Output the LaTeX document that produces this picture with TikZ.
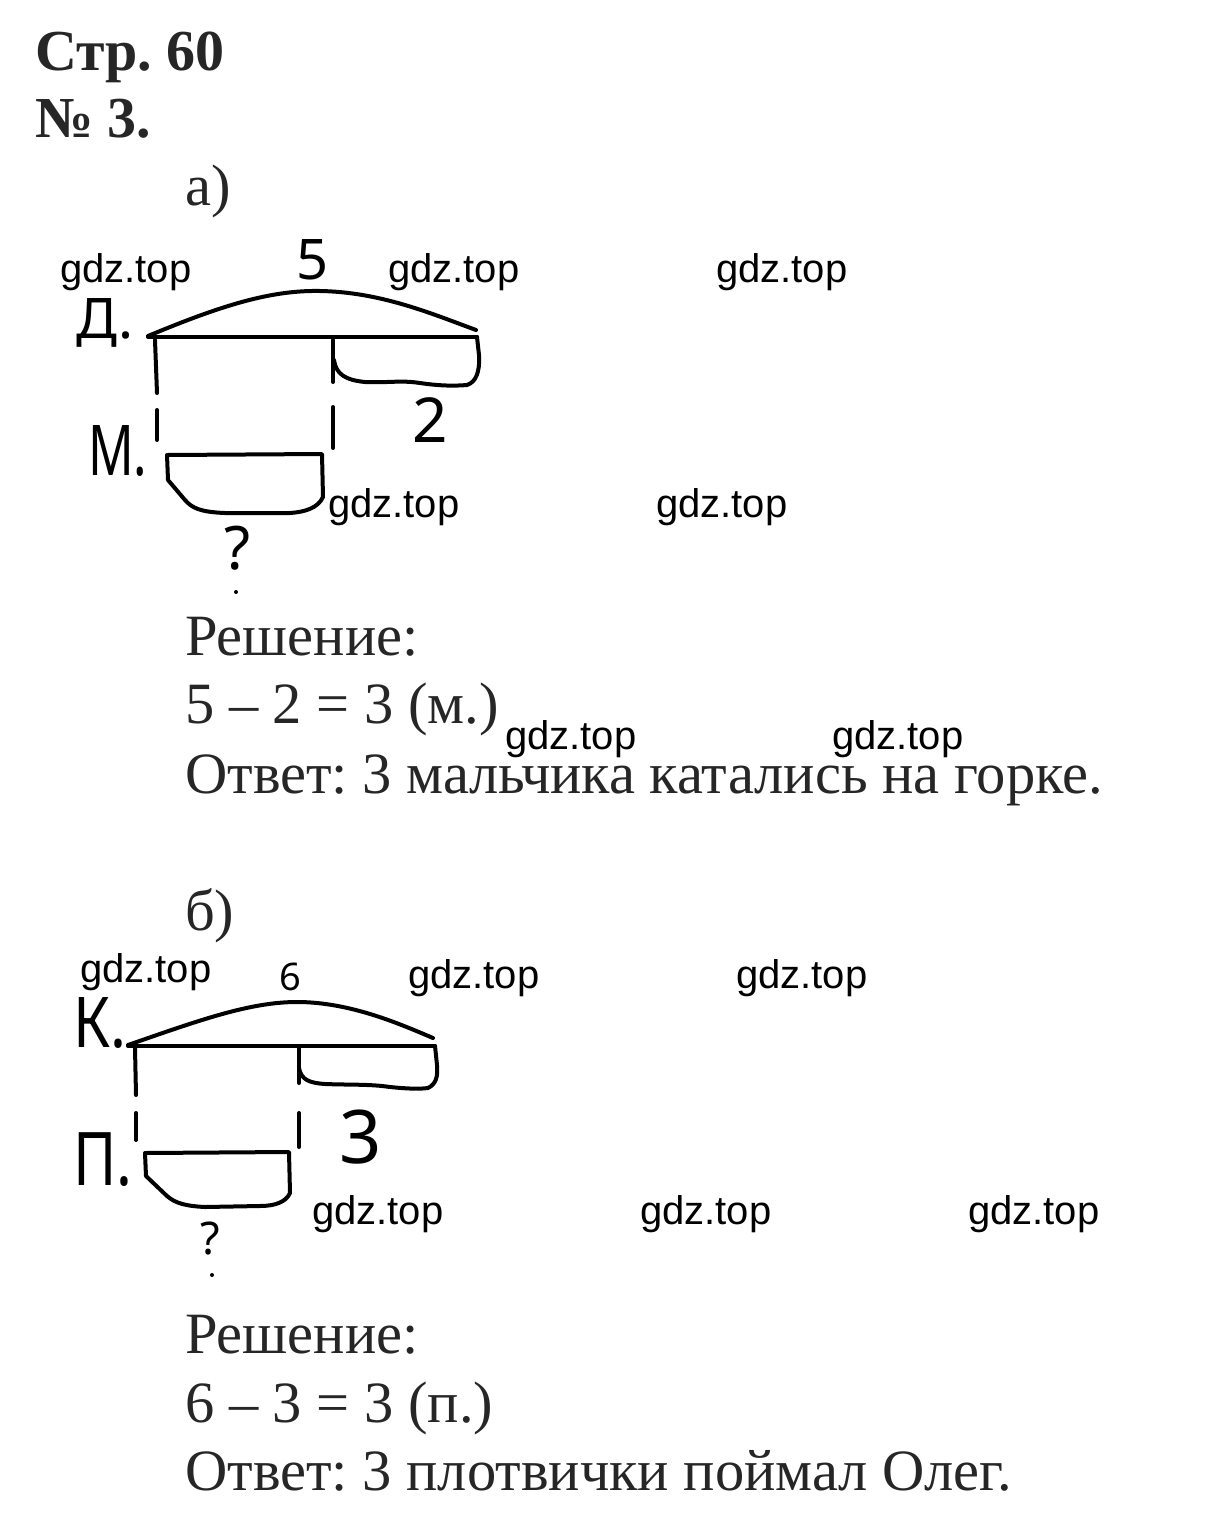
\documentclass[tikz,border=0pt]{standalone}
\usepackage{fontspec}
\setmainfont{Liberation Serif}
\newfontfamily\wmfont{Liberation Sans}
\newfontfamily\handfont{Noto Sans}
\definecolor{txt}{HTML}{262626}
\frenchspacing
\begin{document}
\begin{tikzpicture}[x=1pt,y=-1pt,
  sk/.style={line width=4pt,line cap=round,line join=round,black},
  hd/.style={font=\handfont\fontsize{#1}{#1}\selectfont,inner sep=0pt,text=black},
  wm/.style={font=\wmfont\fontsize{40}{40}\selectfont,anchor=base west,inner sep=0pt,text=black},
  body/.style={font=\fontsize{58.5}{58.5}\selectfont,anchor=base west,inner sep=0pt,text=txt},
  head/.style={font=\bfseries\fontsize{58}{58}\selectfont,anchor=base west,inner sep=0pt,text=txt}]
\useasboundingbox[fill=white] (0,0) rectangle (1225,1526);

% headers
\node[head] (h1) at (35,70) {Стр. 60};
\node[head] (h2) at (35,137) {№ 3.};
\node[body] (pa) at (185,205) {а)};
\node[body] (pb) at (185,930) {б)};

% part a text
\node[body] (ra) at (185,655) {Решение:};
\node[body] (ea) at (185,723) {5 – 2 = 3 (м.)};
\node[body] (oa) at (185,793) {Ответ: 3 мальчика катались на горке.};
% part b text
\node[body] (rb) at (185,1353) {Решение:};
\node[body] (eb) at (185,1422) {6 – 3 = 3 (п.)};
\node[body] (ob) at (185,1490) {Ответ: 3 плотвички поймал Олег.};

% sketch a
\draw[sk] (148,337) -- (477,337);
\draw[sk] (148,336) .. controls (220,306) and (270,290) .. (320,291) .. controls (380,292) and (430,313) .. (476,330);
\draw[sk] (333,340) -- (333,382);
\draw[sk] (334,360) .. controls (336,374) and (345,380) .. (365,382) .. controls (390,383) and (400,380) .. (420,383) .. controls (440,386) and (455,386) .. (467,385) .. controls (476,382) and (480,372) .. (479,355) -- (477,337);
\draw[sk] (155,340) -- (157,393);
\draw[sk] (157,410) -- (157,440);
\draw[sk] (333,407) -- (333,448);
\draw[sk] (167,455) -- (322,454) -- (323,497) .. controls (318,508) and (305,512) .. (290,513) -- (225,513) .. controls (200,512) and (192,508) .. (185,500) -- (168,480) -- cycle;
\node[hd=56,anchor=base west] (da) at (76,338) {Д.};
\node[hd=70,anchor=base west] (ma) at (88,475) {\scalebox{0.72}[1]{М.}};
\node[hd=56] (fa) at (313,260) {5};
\node[hd=62] (ta) at (430,420) {2};
\node[hd=60] (qa) at (238,548) {?};
\fill (236,592) circle (2pt);

% sketch b
\draw[sk] (128,1046) -- (435,1046);
\draw[sk] (128,1045) .. controls (200,1020) and (250,1002) .. (297,1002) .. controls (350,1002) and (400,1024) .. (433,1038);
\draw[sk] (135,1048) -- (136,1095);
\draw[sk] (136,1113) -- (136,1140);
\draw[sk] (299,1046) -- (299,1083);
\draw[sk] (299,1113) -- (299,1147);
\draw[sk] (299,1068) .. controls (301,1080) and (310,1083) .. (325,1084) .. controls (350,1085) and (370,1084) .. (390,1087) .. controls (410,1089) and (420,1089) .. (428,1088) .. controls (436,1084) and (438,1077) .. (437,1065) -- (435,1046);
\draw[sk] (145,1153) -- (289,1152) -- (290,1193) .. controls (286,1202) and (275,1206) .. (260,1206) -- (205,1207) .. controls (185,1206) and (175,1203) .. (167,1196) -- (146,1176) -- cycle;
\node[hd=70,anchor=base west] (kb) at (73,1047) {\scalebox{0.85}[1]{К.}};
\node[hd=74,anchor=base west] (pbb) at (73,1185) {\scalebox{0.8}[1]{П.}};
\node[hd=38] (sb) at (290,977) {6};
\node[hd=74] (tb) at (361,1137) {3};
\node[hd=45] (qb) at (210,1239) {?};
\fill (212,1275) circle (2pt);

% watermarks
\node[wm] (w1) at (60,282) {gdz.top};
\node[wm] (w2) at (388,282) {gdz.top};
\node[wm] (w3) at (716,282) {gdz.top};
\node[wm] (w4) at (328,517) {gdz.top};
\node[wm] (w5) at (656,517) {gdz.top};
\node[wm] (w6) at (505,749) {gdz.top};
\node[wm] (w7) at (832,749) {gdz.top};
\node[wm] (w8) at (80,982) {gdz.top};
\node[wm] (w9) at (408,988) {gdz.top};
\node[wm] (w10) at (736,988) {gdz.top};
\node[wm] (w11) at (312,1224) {gdz.top};
\node[wm] (w12) at (640,1224) {gdz.top};
\node[wm] (w13) at (968,1224) {gdz.top};
\end{tikzpicture}
\end{document}
